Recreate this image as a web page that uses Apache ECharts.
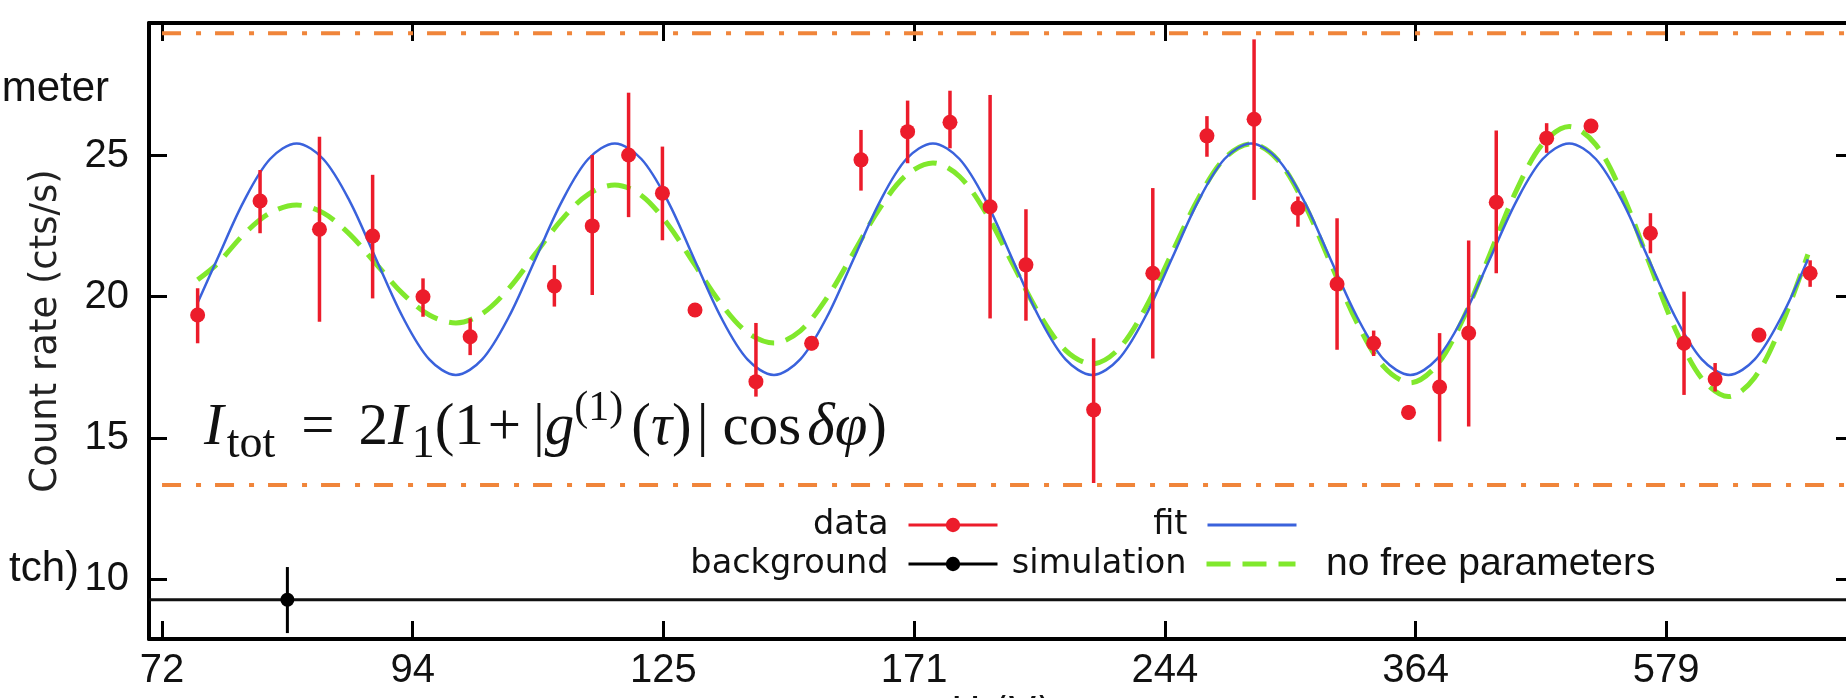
<!DOCTYPE html>
<html>
<head>
<meta charset="utf-8">
<script src="https://cdn.jsdelivr.net/npm/echarts@6/dist/echarts.min.js"></script>
<style>
  html, body { margin: 0; padding: 0; background: #fff; }
  #chart { width: 1846px; height: 698px; }
</style>
</head>
<body>
<div id="chart"></div>
<script>
// x is in tick units: tick i carries label xTickLabels[i]
const xTickLabels = ['72', '94', '125', '171', '244', '364', '579'];
const xTickPos = [0, 1, 2, 3, 4, 5, 6];
const yTicks = [10, 15, 20, 25];

// measured count rate with error bars
const dataX = [0.142, 0.391, 0.628, 0.840, 1.041, 1.229, 1.565, 1.716, 1.861, 1.996, 2.126, 2.369,
  2.591, 2.788, 2.974, 3.143, 3.303, 3.446, 3.716, 3.952, 4.168, 4.356, 4.531, 4.687,
  4.833, 4.972, 5.096, 5.212, 5.322, 5.523, 5.700, 5.937, 6.071, 6.195, 6.370, 6.574];
const dataY = [19.35, 23.39, 22.39, 22.15, 20.00, 18.58, 20.38, 22.51, 25.02, 23.67, 19.53, 16.99,
  18.35, 24.85, 25.85, 26.18, 23.19, 21.13, 15.99, 20.83, 25.70, 26.29, 23.14, 20.45,
  18.35, 15.90, 16.80, 18.71, 23.35, 25.62, 26.05, 22.25, 18.35, 17.08, 18.64, 20.83];
const errLo = [18.35, 22.25, 19.11, 19.94, 19.29, 17.93, 19.65, 20.06, 22.82, 22.00, 19.38, 16.46,
  18.10, 23.76, 24.73, 25.26, 19.23, 19.15, 13.40, 17.81, 24.96, 23.43, 22.48, 18.12,
  17.90, 15.65, 14.87, 15.40, 20.83, 25.10, 25.80, 21.54, 16.52, 16.64, 18.39, 20.35];
const errHi = [20.30, 24.49, 25.67, 24.32, 20.65, 19.23, 21.12, 25.02, 27.23, 25.32, 19.68, 19.07,
  18.60, 25.91, 26.95, 27.30, 27.15, 23.10, 18.53, 23.85, 26.40, 29.12, 23.55, 22.78,
  18.80, 16.15, 18.71, 21.99, 25.89, 26.15, 26.30, 22.96, 20.18, 17.65, 18.89, 21.29];

// fit and simulation curves
const curveX = [0.142, 0.220, 0.326, 0.431, 0.537, 0.643, 0.749, 0.854, 0.960, 1.066, 1.172, 1.277,
  1.383, 1.489, 1.595, 1.700, 1.806, 1.912, 2.018, 2.123, 2.229, 2.335, 2.441, 2.546,
  2.652, 2.758, 2.864, 2.969, 3.075, 3.181, 3.287, 3.392, 3.498, 3.604, 3.710, 3.815,
  3.921, 4.027, 4.133, 4.238, 4.344, 4.450, 4.556, 4.661, 4.767, 4.873, 4.979, 5.084,
  5.190, 5.296, 5.402, 5.507, 5.613, 5.719, 5.825, 5.930, 6.036, 6.142, 6.248, 6.353,
  6.459, 6.565];
const fitY = [19.79, 21.33, 23.38, 24.88,
  25.43, 24.88, 23.38, 21.33, 19.28, 17.78, 17.23, 17.78, 19.28, 21.33, 23.38, 24.88,
  25.43, 24.88, 23.38, 21.33, 19.28, 17.78, 17.23, 17.78, 19.28, 21.33, 23.38, 24.88,
  25.43, 24.88, 23.38, 21.33, 19.28, 17.78, 17.23, 17.78, 19.28, 21.33, 23.38, 24.88,
  25.43, 24.88, 23.38, 21.33, 19.28, 17.78, 17.23, 17.78, 19.28, 21.33, 23.38, 24.88,
  25.43, 24.88, 23.38, 21.33, 19.28, 17.78, 17.23, 17.78, 19.28, 21.33];
const simY = [20.60, 21.16, 22.21, 22.97,
  23.25, 22.97, 22.21, 21.16, 20.11, 19.35, 19.07, 19.40, 20.29, 21.52, 22.74, 23.63,
  23.96, 23.59, 22.56, 21.16, 19.76, 18.73, 18.36, 18.79, 19.96, 21.55, 23.15, 24.31,
  24.74, 24.26, 22.96, 21.18, 19.40, 18.10, 17.62, 18.14, 19.57, 21.52, 23.47, 24.90,
  25.42, 24.85, 23.30, 21.19, 19.07, 17.52, 16.95, 17.56, 19.22, 21.49, 23.76, 25.42,
  26.03, 25.39, 23.64, 21.25, 18.85, 17.10, 16.46, 17.14, 18.98, 21.50];

// background measurement
const bgX = [0.5];
const bgY = [9.26];
const bgLo = [8.08];
const bgHi = [10.42];

// dash-dot levels
const levelY = [29.34, 13.33];
const levelStartX = 0;

const X_MIN = -0.052, X_MAX = 6.749, Y_MIN = 7.87, Y_MAX = 29.70;
const RED = '#ec1c2b', BLUE = '#3a62dc', GREEN = '#80e82c', ORANGE = '#f0853a';
const TICK_FONT = "'Liberation Sans', Arial, sans-serif";
const SIM_DASH = [24, 12];

// equation pieces: text, style, left pad, right pad
const eqTokens = [
  ['I', 'i', 0, 3], ['tot', 's', 0, 0], ['=', 'n', 26, 24], ['2', 'n', 0, 0], ['I', 'i', 0, 4],
  ['1', 's', 0, 0], ['(', 'n', 0, 0], ['1', 'n', 0, 0], ['+', 'n', 4, 12], ['|', 'n', 0, 0],
  ['g', 'i', 0, 0], ['(1)', 'p', 0, 0], ['(', 'n', 8, 0], ['τ', 'i', 0, 0], [')', 'n', 0, 0],
  ['|', 'n', 5, 0], ['cos', 'n', 14, 6], ['δ', 'i', 0, 0], ['φ', 'i', 0, 0], [')', 'n', 0, 0]
];
const eqBase = {
  i: { fontFamily: 'Liberation Serif', fontStyle: 'italic', fontSize: 59, lineHeight: 80, verticalAlign: 'middle' },
  n: { fontFamily: 'Liberation Serif', fontSize: 59, lineHeight: 80, verticalAlign: 'middle' },
  s: { fontFamily: 'Liberation Serif', fontSize: 46, lineHeight: 53, verticalAlign: 'bottom' },
  p: { fontFamily: 'Liberation Serif', fontSize: 42, lineHeight: 61, verticalAlign: 'top' }
};
const eqRich = {};
const eqText = eqTokens.map(([t, st, pl, pr], k) => {
  eqRich['t' + k] = Object.assign({}, eqBase[st], { padding: [0, pr, 0, pl] });
  return '{t' + k + '|' + t + '}';
}).join('');

const chart = echarts.init(document.getElementById('chart'));

const frameAxis = {
  type: 'value',
  axisLine: { show: true, onZero: false, lineStyle: { color: '#000', width: 4 } },
  axisTick: { show: true, inside: true, length: 18, lineStyle: { color: '#000', width: 3 } },
  splitLine: { show: false }
};

const legendBase = {
  align: 'right', orient: 'horizontal', padding: 0, itemWidth: 89, itemHeight: 18,
  selectedMode: false,
  textStyle: { fontFamily: 'DejaVu Sans', fontSize: 33.5, color: '#111', padding: [0, 15, 0, 0] }
};

const option = {
  animation: false,
  backgroundColor: '#fff',
  grid: { left: 149, top: 23, right: -8, bottom: 59, containLabel: false, outerBoundsMode: 'none' },
  xAxis: [
    Object.assign({}, frameAxis, {
      position: 'bottom', min: X_MIN, max: X_MAX,
      axisTick: Object.assign({}, frameAxis.axisTick, { customValues: xTickPos }),
      axisLabel: {
        customValues: xTickPos, margin: 12,
        formatter: v => xTickLabels[Math.round(v)],
        fontFamily: TICK_FONT, fontSize: 40, color: '#111'
      },
      name: 'U (V)', nameLocation: 'middle', nameGap: 49,
      nameTextStyle: { fontFamily: 'DejaVu Sans', fontSize: 40, color: '#111', verticalAlign: 'top' }
    }),
    Object.assign({}, frameAxis, {
      position: 'top', min: X_MIN, max: X_MAX,
      axisTick: Object.assign({}, frameAxis.axisTick, { customValues: xTickPos }),
      axisLabel: { show: false }
    })
  ],
  yAxis: [
    Object.assign({}, frameAxis, {
      position: 'left', min: Y_MIN, max: Y_MAX,
      axisTick: Object.assign({}, frameAxis.axisTick, { customValues: yTicks }),
      axisLabel: { customValues: yTicks, margin: 20, fontFamily: TICK_FONT, fontSize: 40, color: '#111' },
      name: 'Count rate (cts/s)', nameLocation: 'middle', nameGap: 84, nameRotate: 90,
      nameTextStyle: { fontFamily: 'DejaVu Sans', fontSize: 37, color: '#222' }
    }),
    Object.assign({}, frameAxis, {
      position: 'right', min: Y_MIN, max: Y_MAX,
      axisTick: Object.assign({}, frameAxis.axisTick, { customValues: yTicks }),
      axisLabel: { show: false }
    })
  ],
  legend: [
    Object.assign({}, legendBase, {
      right: 847, top: 508,
      data: [{ name: 'data', lineStyle: { color: RED, width: 3, opacity: 1 } }]
    }),
    Object.assign({}, legendBase, {
      right: 847, top: 547,
      data: [{ name: 'background', lineStyle: { color: '#000', width: 3, opacity: 1 } }]
    }),
    Object.assign({}, legendBase, {
      right: 548, top: 508,
      data: [{ name: 'fit', itemStyle: { opacity: 0 }, lineStyle: { color: BLUE, width: 3 } }]
    }),
    Object.assign({}, legendBase, {
      right: 548, top: 547,
      data: [{ name: 'simulation', itemStyle: { opacity: 0 },
        lineStyle: { color: GREEN, width: 5, type: SIM_DASH, cap: 'butt' } }]
    })
  ],
  graphic: [
    {
      type: 'text', left: 204, top: 388, z: 10,
      style: { text: eqText, fill: '#111', rich: eqRich }
    },
    {
      type: 'text', left: 1326, top: 545, z: 10,
      style: { text: 'no free parameters', fontFamily: 'Liberation Sans', fontSize: 39, fill: '#111' }
    },
    {
      type: 'text', right: 1846 - 109, top: 68, z: 10,
      style: { text: 'meter', fontFamily: 'Liberation Sans', fontSize: 42, fill: '#111' }
    },
    {
      type: 'text', right: 1846 - 79, top: 548, z: 10,
      style: { text: 'tch)', fontFamily: 'Liberation Sans', fontSize: 42, fill: '#111' }
    }
  ],
  series: [
    {
      name: 'levels-top', type: 'line', symbol: 'none', silent: true, z: 1,
      data: [[levelStartX, levelY[0]], [X_MAX, levelY[0]]],
      lineStyle: { color: ORANGE, width: 4, type: [19, 15, 5, 14], cap: 'butt' }
    },
    {
      name: 'levels-bottom', type: 'line', symbol: 'none', silent: true, z: 1,
      data: [[levelStartX, levelY[1]], [X_MAX, levelY[1]]],
      lineStyle: { color: ORANGE, width: 4, type: [19, 15, 5, 14], cap: 'butt' }
    },
    {
      name: 'background', type: 'line', symbol: 'circle', symbolSize: 14, z: 3,
      itemStyle: { color: '#000' },
      lineStyle: { color: '#111', width: 3 },
      data: [
        { value: [X_MIN, bgY[0]], symbol: 'none' },
        { value: [bgX[0], bgY[0]] },
        { value: [X_MAX, bgY[0]], symbol: 'none' }
      ]
    },
    {
      name: 'bgErr', type: 'custom', silent: true, z: 3,
      data: bgX.map((x, i) => [x, bgLo[i], bgHi[i]]),
      encode: { x: 0, y: [1, 2] },
      renderItem: (params, api) => {
        const a = api.coord([api.value(0), api.value(1)]);
        const b = api.coord([api.value(0), api.value(2)]);
        return { type: 'line', shape: { x1: a[0], y1: a[1], x2: b[0], y2: b[1] }, style: { stroke: '#000', lineWidth: 3 } };
      }
    },
    {
      name: 'simulation', type: 'line', symbol: 'none', smooth: 0.33, z: 4,
      itemStyle: { color: GREEN },
      data: curveX.map((x, i) => [x, simY[i]]),
      lineStyle: { color: GREEN, width: 5, type: SIM_DASH, cap: 'butt' }
    },
    {
      name: 'fit', type: 'line', symbol: 'none', smooth: 0.33, z: 5,
      itemStyle: { color: BLUE },
      data: curveX.map((x, i) => [x, fitY[i]]),
      lineStyle: { color: BLUE, width: 2.5 }
    },
    {
      name: 'dataErr', type: 'custom', silent: true, z: 6,
      data: dataX.map((x, i) => [x, errLo[i], errHi[i]]),
      encode: { x: 0, y: [1, 2] },
      renderItem: (params, api) => {
        const a = api.coord([api.value(0), api.value(1)]);
        const b = api.coord([api.value(0), api.value(2)]);
        return { type: 'line', shape: { x1: a[0], y1: a[1], x2: b[0], y2: b[1] }, style: { stroke: RED, lineWidth: 3.5 } };
      }
    },
    {
      name: 'data', type: 'line', symbol: 'circle', symbolSize: 15, z: 7,
      itemStyle: { color: RED },
      lineStyle: { width: 0, opacity: 0 },
      data: dataX.map((x, i) => [x, dataY[i]])
    }
  ]
};

chart.setOption(option);
</script>
</body>
</html>
